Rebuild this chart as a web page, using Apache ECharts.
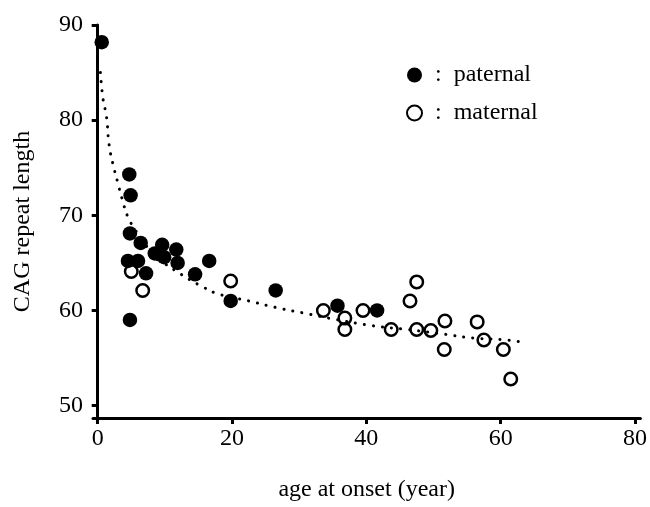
<!DOCTYPE html>
<html>
<head>
<meta charset="utf-8">
<script src="https://cdn.jsdelivr.net/npm/echarts@6/dist/echarts.min.js"></script>
<style>
  html, body { margin: 0; padding: 0; background: #fff; }
  #main { width: 650px; height: 507px; }
</style>
</head>
<body>
<div id="main"></div>
<script>
// paternal transmission (filled circles): [age at onset, CAG repeat length]
const paternal = [
  [0.6, 88.2], [4.7, 74.3], [4.9, 72.1], [4.8, 68.1], [4.5, 65.2], [6.0, 65.2],
  [4.8, 59.0], [7.2, 63.9], [6.4, 67.1], [8.5, 66.0], [9.2, 65.9], [9.6, 66.9],
  [9.9, 65.6], [11.7, 66.4], [11.9, 65.0], [14.5, 63.8], [16.6, 65.2],
  [19.8, 61.0], [26.5, 62.1], [35.7, 60.5], [41.6, 60.0]
]
// maternal transmission (open circles)
const maternal = [
  [5.0, 64.1], [6.7, 62.1], [19.8, 63.1], [33.6, 60.0], [36.8, 59.2], [36.8, 58.0],
  [39.5, 60.0], [43.7, 58.0], [46.5, 61.0], [47.5, 63.0], [47.5, 58.0], [49.6, 57.9],
  [51.7, 58.9], [51.6, 55.9], [56.5, 58.8], [57.5, 56.9], [60.4, 55.9], [61.5, 52.8]
]
// dotted trend curve
const trend = [
  [0.4, 85.0], [0.8, 82.2], [1.3, 80.4], [1.7, 77.4], [2.3, 75.3], [3.0, 73.4],
  [3.6, 71.8], [4.5, 69.8], [5.3, 68.8], [7.0, 67.0], [9.0, 65.5], [12.2, 63.9],
  [15.6, 62.5], [18.1, 61.7], [22.5, 61.0], [26.6, 60.3], [30.9, 59.7],
  [35.1, 59.1], [40.9, 58.4], [46.1, 58.0], [51.7, 57.5], [56.0, 57.1],
  [60.9, 56.9], [63.6, 56.6]
]
const xTicks = [0, 20, 40, 60, 80]
const yTicks = [50, 60, 70, 80, 90]

const font = 'Liberation Serif'
const myChart = echarts.init(document.getElementById('main'))

const axisCommon = {
  axisLine: { show: true, lineStyle: { color: '#000', width: 3 } },
  axisTick: { show: true, length: 6, lineStyle: { color: '#000', width: 3 } },
  splitLine: { show: false },
  nameTextStyle: { color: '#000', fontFamily: font, fontSize: 24 }
}

const option = {
  animation: false,
  grid: { left: 93, right: 7, top: 25, bottom: 79, containLabel: false },
  legend: {
    data: ['paternal', 'maternal'],
    orient: 'vertical',
    left: 406,
    top: 63,
    padding: 0,
    itemWidth: 15,
    itemHeight: 15,
    itemGap: 14,
    formatter: name => ':  ' + name,
    textStyle: { color: '#000', fontFamily: font, fontSize: 24, padding: [0, 0, 0, 8] }
  },
  xAxis: {
    type: 'value',
    min: -0.7,
    max: 80.8,
    name: 'age at onset (year)',
    nameLocation: 'middle',
    nameGap: 60,
    ...axisCommon,
    axisTick: { ...axisCommon.axisTick, customValues: xTicks },
    axisLabel: { customValues: xTicks, color: '#000', fontFamily: font, fontSize: 24, margin: 9 }
  },
  yAxis: {
    type: 'value',
    min: 48.7,
    max: 90,
    name: 'CAG repeat length',
    nameLocation: 'middle',
    nameRotate: 90,
    nameGap: 58,
    ...axisCommon,
    axisTick: { ...axisCommon.axisTick, customValues: yTicks },
    axisLabel: { customValues: yTicks, color: '#000', fontFamily: font, fontSize: 24, margin: 10 }
  },
  series: [
    {
      name: 'trend',
      type: 'line',
      data: trend,
      smooth: true,
      symbol: 'none',
      z: 1,
      lineStyle: { color: '#000', width: 3, type: [0.1, 9], cap: 'round' }
    },
    {
      name: 'paternal',
      type: 'scatter',
      data: paternal,
      symbol: 'circle',
      symbolSize: 14.5,
      z: 3,
      itemStyle: { color: '#000', opacity: 1 }
    },
    {
      name: 'maternal',
      type: 'scatter',
      data: maternal,
      symbol: 'circle',
      symbolSize: 12.5,
      z: 2,
      itemStyle: { color: 'rgba(255,255,255,0)', borderColor: '#000', borderWidth: 2.5, opacity: 1 }
    }
  ]
}
myChart.setOption(option)
</script>
</body>
</html>
